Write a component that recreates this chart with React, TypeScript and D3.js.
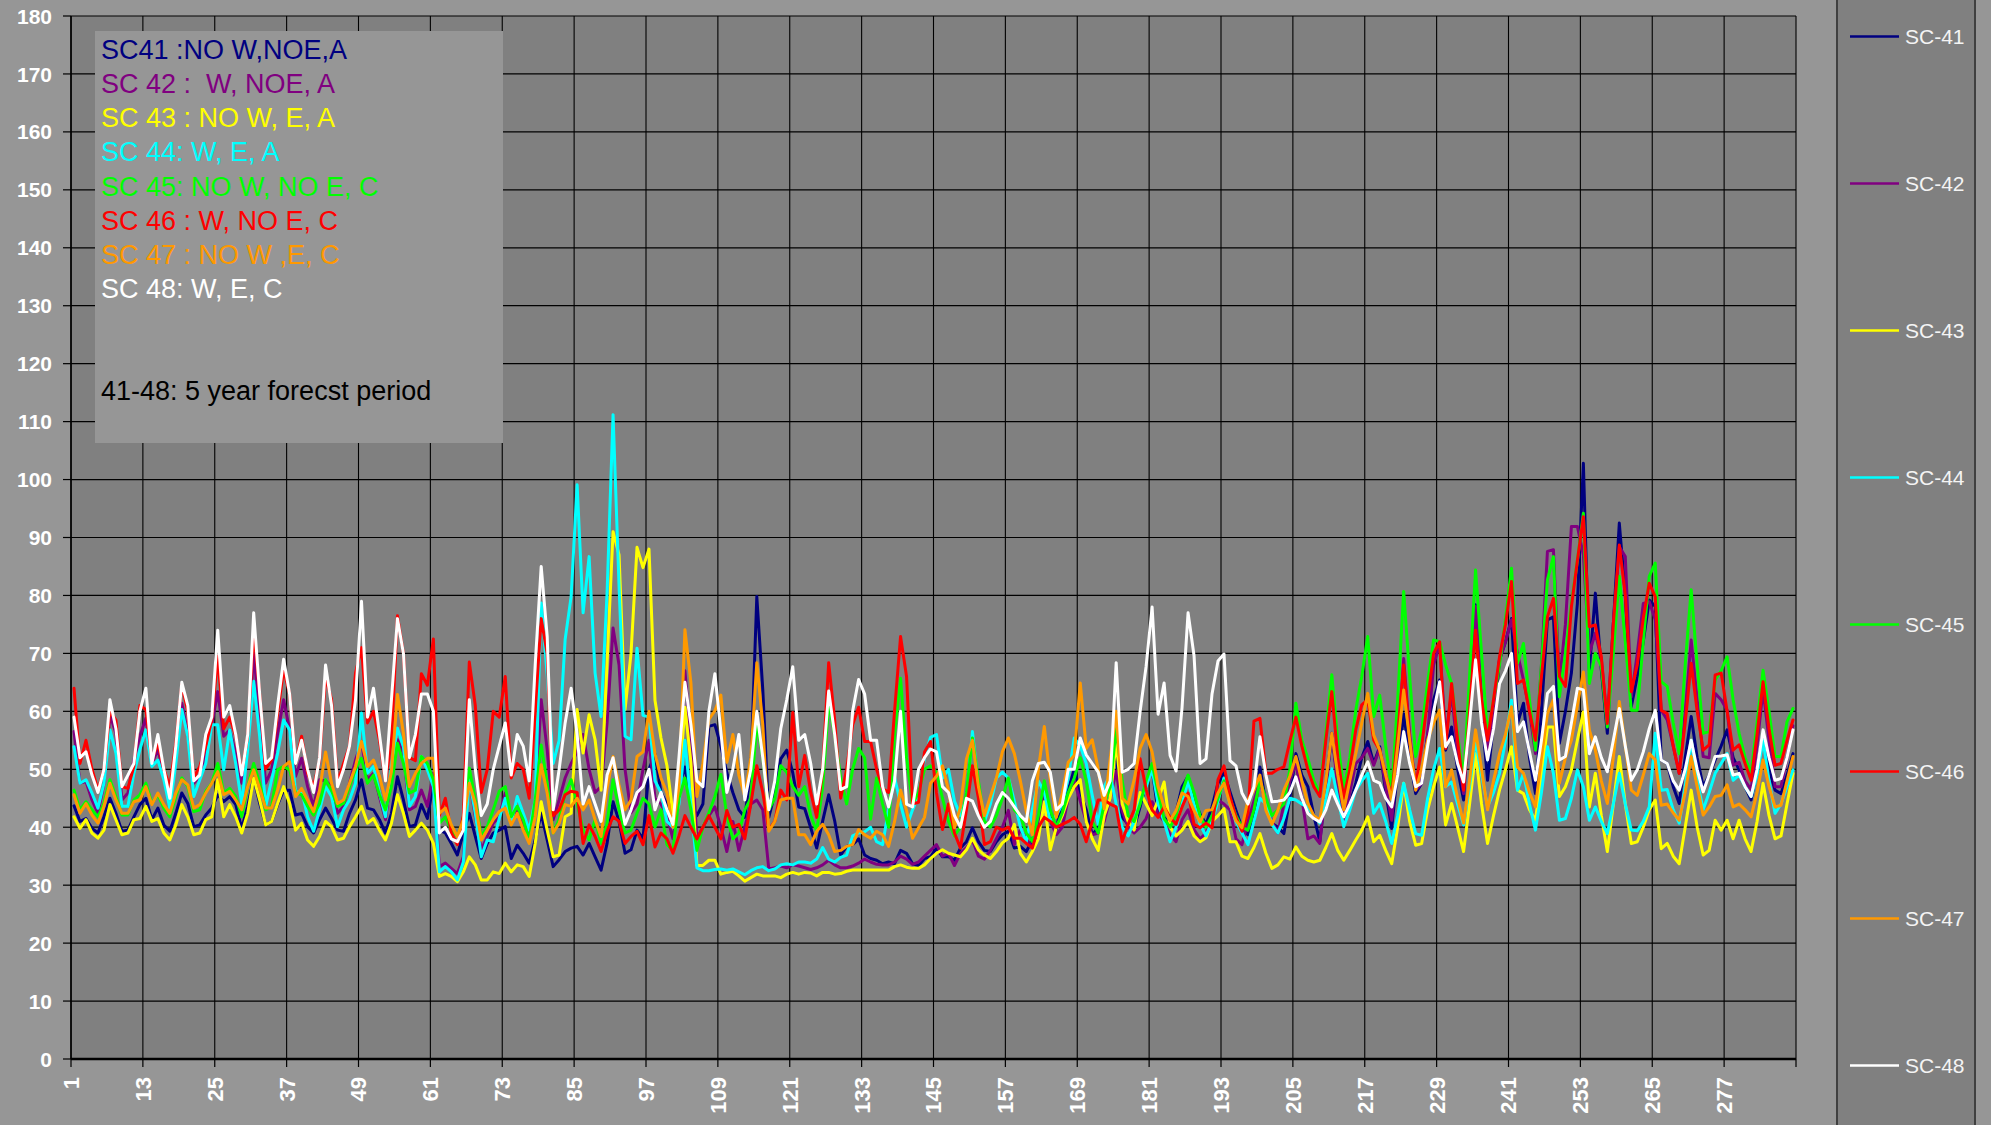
import React from "react";
import * as d3 from "d3";

const W = 1991;
const H = 1125;

const seriesNames = ["SC-41", "SC-42", "SC-43", "SC-44", "SC-45", "SC-46", "SC-47", "SC-48"];
const seriesColors = ["#000080", "#800080", "#FFFF00", "#00FFFF", "#00FF00", "#FF0000", "#FF9900", "#FFFFFF"];

const noteLines = [
  { text: "SC41 :NO W,NOE,A", color: "#000080" },
  { text: "SC 42 :  W, NOE, A", color: "#800080" },
  { text: "SC 43 : NO W, E, A", color: "#FFFF00" },
  { text: "SC 44: W, E, A", color: "#00FFFF" },
  { text: "SC 45: NO W, NO E, C", color: "#00FF00" },
  { text: "SC 46 : W, NO E, C", color: "#FF0000" },
  { text: "SC 47 : NO W ,E, C", color: "#FF9900" },
  { text: "SC 48: W, E, C", color: "#FFFFFF" },
];
const noteFooter = "41-48: 5 year forecst period";

const categories = d3.range(1, 289).map(String);
const xTickLabels = ["1", "13", "25", "37", "49", "61", "73", "85", "97", "109", "121", "133", "145", "157", "169", "181", "193", "205", "217", "229", "241", "253", "265", "277"];
const yTicks = [0, 10, 20, 30, 40, 50, 60, 70, 80, 90, 100, 110, 120, 130, 140, 150, 160, 170, 180];

const sc41 = [
  43.7, 41, 41.5, 39.8, 39, 41.8, 45, 42.4, 39.3, 39.5, 41.8, 43.9,
  45, 41.3, 43.3, 40.4, 39.3, 42.4, 45.9, 44.1, 40.1, 40.4, 42.1, 43.3,
  45.6, 44.4, 45.3, 43.9, 39.8, 43.6, 48.5, 44.1, 40.4, 41, 43.9, 46.4,
  46.4, 42.1, 42.4, 40.1, 39, 41.3, 43.3, 41.5, 39.5, 39.3, 42.4, 44.7,
  48.2, 43.3, 43, 41.3, 39, 42.4, 48.7, 44.7, 40.1, 40.4, 43.9, 41.5,
  47.6, 39.5, 39, 37.2, 35.2, 39, 42.4, 38.4, 34.6, 37.2, 39, 39.5,
  40.1, 34.6, 36.9, 35.5, 33.8, 37.8, 42.4, 37.8, 33.2, 34.4, 35.8, 36.4,
  36.7, 35.2, 37.2, 34.9, 32.6, 37.2, 44.4, 41, 35.5, 36.1, 39.5, 38,
  50, 52.7, 46, 44, 41, 47, 50.4, 44, 42, 44, 57.4, 57.7,
  54, 49.4, 46, 43, 41.7, 50, 79.8, 63.7, 41.7, 45.8, 51.8, 53.3,
  49.4, 43.5, 43.2, 39.9, 36.4, 41.1, 45.6, 41.1, 35.2, 36.7, 37, 38,
  35.2, 34.6, 34.3, 33.7, 34, 33.7, 36, 35.5, 33.7, 33.4, 34.6, 34.9,
  36.4, 34.9, 34.9, 34.3, 36.4, 37.5, 39.9, 37.5, 36, 35.8, 37.5, 38.7,
  39.3, 36.4, 36.7, 35.8, 37.8, 40.5, 46.2, 41.7, 39.6, 44.7, 46.4, 50,
  45.9, 43, 38.7, 39.9, 44.7, 50, 52.4, 41.7, 40.5, 39.9, 43.5, 47.7,
  50, 42.6, 41.7, 40.5, 42.6, 47, 48.8, 44.7, 42.3, 40.5, 43.5, 47.6,
  49.4, 46.1, 42.9, 39.9, 38.7, 41.1, 50.4, 44, 40.7, 40, 38.9, 45,
  52.7, 49, 47, 42, 37.5, 47, 56.2, 48, 40.4, 44, 47.6, 52,
  54.8, 51, 53.9, 46, 39.8, 50, 59.6, 52, 45.8, 47.6, 56, 62,
  65.4, 53.3, 57.3, 50, 44.7, 62, 78.4, 60, 48.1, 58, 68.9, 72,
  76, 57.9, 61.4, 52, 45.8, 60, 75.8, 76.3, 54.5, 60, 66.6, 78.6,
  102.8, 67.1, 80.4, 67.1, 56.2, 75, 92.5, 80, 60.8, 66, 72, 79.2,
  78.1, 51.6, 51, 47, 44.1, 52, 59.1, 52, 47, 49, 51.6, 54,
  56.8, 52, 49.9, 47, 44.7, 50, 56.2, 50, 46.4, 45.8, 49, 52.7,
];

const sc42 = [
  56.5, 47.6, 47.9, 44.7, 42.4, 47.6, 59.4, 56.2, 44.7, 45.9, 51.6, 55.7,
  58.8, 51, 53.4, 49.3, 45.3, 52.2, 61.4, 56.2, 47.6, 48.8, 52.8, 57.7,
  63.4, 55.7, 56.8, 52.8, 47.6, 54.5, 70, 59.1, 47.6, 49.9, 56.2, 62,
  56.8, 48.8, 51.9, 47, 43.6, 48.2, 48, 47, 42.4, 43.6, 47.6, 51.6,
  54.8, 48.2, 49.3, 45.3, 41.3, 49.3, 55.1, 52.8, 43, 43.6, 46.4, 43.6,
  49.3, 33.2, 33.8, 32.9, 32, 34.9, 48.2, 41.8, 36.1, 38.4, 40.7, 41.8,
  45.9, 41.3, 43, 40.7, 37.8, 44.1, 62, 53.4, 41.3, 44.7, 48.5, 51,
  53, 56, 50, 46, 47, 58, 74.4, 68, 50, 42.5, 44, 50,
  55, 45, 44, 42, 38, 45, 67, 55, 38, 40, 42, 43.5,
  40, 35.8, 41, 36, 40, 44, 44.7, 43, 32.8, 33, 33.3, 33,
  33.5, 33.3, 33, 32.7, 33, 33.5, 34.3, 33.5, 33, 33, 33.3, 33.8,
  34.5, 34, 33.6, 33.5, 33.5, 34, 35, 34.5, 33.6, 34, 35, 36,
  37, 35, 35.5, 33.4, 35.5, 36.5, 37.8, 35, 34.5, 36, 38, 40,
  42.9, 37, 39.6, 38, 36.5, 40.5, 45.6, 41, 38.7, 40, 45, 48,
  44.5, 41, 38.7, 39, 41, 45, 49.7, 42.9, 40, 39, 40, 41.5,
  44.4, 42.3, 41, 38.7, 37.5, 41.3, 43, 39.6, 38, 39, 42, 44.7,
  44, 43, 38, 37, 41, 44.5, 48, 44.3, 41, 39, 44, 48,
  51, 45, 38, 38.5, 37.2, 47, 56.2, 47, 40.7, 46, 51, 52,
  53.6, 50.7, 53.6, 47, 41.2, 53, 69.1, 56, 46.4, 47.6, 56, 68,
  71.7, 55.6, 63.1, 53, 45.8, 60, 78.1, 62, 52.7, 60, 68.9, 72,
  75.8, 70, 65.4, 60, 52.7, 68, 87.6, 87.9, 65, 75, 91.9, 91.9,
  87, 70, 73.5, 69, 58, 75, 88.4, 86.7, 62.5, 70, 78.6, 78.9,
  75.8, 60.2, 58.5, 54, 49.3, 60, 72.3, 62, 52.2, 52, 63.1, 62,
  60.2, 50.7, 51.2, 48, 46.5, 54, 63.7, 55, 47, 47, 52, 57.5,
];

const sc43 = [
  41.8, 39.8, 41.3, 39, 38.1, 39.5, 43.9, 41.3, 38.7, 39, 41.3, 41.5,
  43.6, 41, 41.5, 39, 37.8, 40.4, 43.9, 41.8, 38.7, 39, 41.3, 41.8,
  48.2, 41.8, 43.9, 41.8, 39, 42.4, 48.5, 44.7, 40.4, 41, 44.1, 47,
  44.1, 39.5, 40.7, 37.8, 36.7, 38.4, 41, 40.1, 37.8, 38.1, 40.1, 41.8,
  43.6, 40.7, 41.5, 39.5, 37.8, 40.7, 45.6, 42.4, 38.4, 39.5, 40.7, 39.5,
  37.2, 31.5, 32, 31.5, 30.6, 32.3, 34.9, 33.5, 30.9, 30.9, 32.3, 32,
  33.8, 32.3, 33.5, 33.2, 31.5, 37.2, 44.4, 39.5, 34.9, 35.2, 41.8, 42.4,
  60.3, 52.8, 59.4, 55.1, 46.4, 68.3, 91, 87, 60.3, 70, 88.3, 84.8,
  88, 61.9, 55.4, 50.6, 42.3, 47, 60.7, 51.2, 33.4, 33.4, 34.3, 34.3,
  31.9, 32.2, 32.4, 31.6, 30.7, 31.3, 31.9, 31.6, 31.6, 31.6, 31.3, 31.9,
  32.2, 31.9, 32.2, 32.1, 31.6, 32.2, 32.2, 31.9, 32, 32.4, 32.6, 32.6,
  32.6, 32.6, 32.6, 32.6, 32.6, 33.2, 33.5, 33.1, 32.9, 32.9, 33.5, 34.6,
  35.5, 36.1, 35.5, 35.2, 34.9, 36.1, 38.1, 36.1, 35.2, 34.6, 35.8, 37.3,
  38.1, 40.5, 35.5, 34, 35.8, 38, 44.4, 36.1, 40, 42, 45, 47,
  48.2, 41, 38, 36, 42, 45, 54.8, 44, 41, 39.5, 46, 44,
  42, 44.7, 47.8, 40, 38.5, 39.5, 41, 38.5, 37.5, 38.2, 41, 42,
  43.2, 37.5, 37.5, 35, 34.6, 36.5, 38.9, 35.5, 32.9, 33.5, 34.9, 34.5,
  36.6, 35, 34.3, 34, 34.3, 36.5, 38.9, 36, 34.3, 36, 37.8, 39.5,
  41.8, 37.5, 38.6, 36, 33.7, 40, 47.6, 41, 36.9, 37.2, 43, 47,
  50.4, 40.4, 44.1, 40, 35.8, 44, 52.7, 44, 37.2, 42, 46.4, 50,
  53.9, 46.4, 45.8, 43, 41.2, 49, 57.3, 57.3, 45.3, 47, 49.9, 55,
  59.9, 43.5, 49.3, 42, 35.8, 44, 52.2, 44, 37.2, 37.5, 40, 43,
  44.7, 36.3, 37.2, 35, 33.7, 40, 46.4, 40, 35.2, 36, 41.2, 39.5,
  41.2, 38, 41.2, 38, 35.8, 41, 47.6, 42, 38, 38.5, 44, 49.3,
];

const sc44 = [
  53.9, 47.6, 48.2, 45.9, 43.3, 47.6, 56.8, 52.8, 43.6, 43.6, 49.3, 53.4,
  56.8, 50.5, 51.6, 48.2, 43.3, 51, 60.3, 55.7, 45.3, 48.2, 51, 57.7,
  57.7, 49.9, 56.8, 51, 44.1, 53.4, 65.2, 55.7, 43.6, 48.2, 52.8, 58.5,
  56.8, 45.9, 46.4, 41.8, 39.3, 43, 47, 45.3, 40.1, 43, 44.7, 47.6,
  59.7, 49.3, 50.5, 45.9, 41.8, 50.5, 57.1, 53.9, 43.6, 45.3, 52.2, 49.9,
  47, 32.3, 33.2, 32.3, 30.9, 34, 48.2, 42.4, 34.9, 37.8, 37.5, 41.5,
  45, 40.7, 45.3, 42.4, 39.5, 44.7, 78.7, 66.3, 51, 55, 72.4, 79.8,
  99.1, 77, 86.7, 66.6, 59.1, 80.4, 111.2, 81.6, 55.7, 55.1, 70.9, 59.3,
  59, 48, 46, 41, 40, 44, 55, 44, 33, 32.5, 32.5, 32.7,
  32.8, 32.6, 32.8, 32.3, 31.8, 32.5, 33, 33.2, 32.5, 32.8, 33.5, 33.7,
  33.5, 34, 34, 33.8, 34.5, 36.5, 34.5, 34, 34.8, 35.2, 38.5, 39,
  39.2, 40, 37.5, 37, 43, 48.6, 44, 40, 43, 45.5, 52, 55.5,
  56, 48.5, 50, 44.5, 42, 45, 56.5, 47, 41, 44, 48.5, 49.5,
  48.5, 44.5, 40, 37.5, 43, 48, 46, 41, 42, 44, 48.5, 55.4,
  54, 51, 45.5, 40.5, 47, 49, 44, 40, 38.5, 41, 44.5, 47,
  50, 44, 41, 37.5, 40, 44, 48, 44, 40.5, 38.5, 41, 44.5,
  48.5, 44, 41, 39, 37, 41, 45, 44, 40.5, 39, 41.5, 45,
  44.7, 44, 43.5, 42, 40.7, 45, 50.1, 45, 40.1, 43, 46.4, 48,
  49.3, 42.4, 44.1, 41, 37.2, 42, 47.6, 43, 38.9, 38.6, 45, 50,
  53.6, 47, 47.8, 44, 40.4, 47, 55, 49, 43.5, 46, 49.3, 55,
  61.9, 46.4, 49.3, 44, 39.5, 46, 53.9, 49.3, 41.2, 41.5, 45, 49.9,
  47, 41.2, 43.5, 41, 38.9, 44, 49.3, 44, 39.5, 39.4, 41, 43.5,
  56.2, 46.4, 46.5, 43, 40.7, 47, 55, 48, 43, 46, 49.3, 51,
  52.7, 48.1, 49, 47, 45.3, 49, 55, 48, 42.4, 44, 47, 49.9,
];

const sc45 = [
  46.4, 43, 44.4, 43, 41.8, 44.1, 48.2, 45.3, 42.1, 42.1, 44.7, 45.6,
  47.6, 44.1, 45.6, 43.3, 41.8, 45.3, 48.5, 47, 42.7, 43, 46.2, 47.6,
  51, 45.9, 46.7, 45.3, 41.8, 47, 51, 47.6, 43, 43.6, 49.9, 50.5,
  49.9, 45.9, 45.6, 43.6, 42.1, 44.1, 48.2, 46.4, 43.6, 44.1, 47, 50,
  51.9, 47.6, 49, 45.6, 43, 47, 54.5, 51, 45.9, 46.4, 52.2, 51,
  48.2, 40.7, 41.8, 39.5, 38.4, 41.3, 50.2, 44.7, 38.4, 40.1, 43, 46.2,
  47, 41.8, 43.6, 41.3, 37.8, 44.7, 54.2, 47.6, 39, 41.3, 45.9, 48.2,
  44.1, 39.5, 37.8, 41.3, 37.2, 40.7, 48.2, 43, 39, 39.5, 42.4, 45,
  44, 40, 43, 37, 36, 45, 48.5, 43, 36, 40, 42.5, 45.3,
  49.1, 42, 38, 39, 43, 45, 58, 52, 43, 45, 50.6, 49.5,
  47, 45.5, 47, 42, 39.3, 47, 61.6, 56, 48.5, 44, 50, 53.6,
  52, 41.4, 48.5, 44, 40, 56, 65.7, 52, 44, 46, 50, 50.6,
  49.5, 45, 41, 38.5, 40, 46, 55.4, 48, 41, 40, 42, 45,
  48.5, 43, 42, 39, 37.5, 42, 48, 43, 40, 42.5, 46, 48.5,
  52, 48, 41, 39, 44, 47, 57, 48, 42, 41, 44, 48,
  51, 46, 41.5, 40, 42, 46, 49, 46, 42, 40, 42, 45,
  48, 45, 42, 40, 39.5, 43, 48, 45, 42, 43, 44, 50,
  61.4, 55, 51.9, 48, 45.8, 56, 66.3, 55, 46.4, 52, 60.2, 66,
  72.9, 59.1, 62.8, 54, 46.4, 62, 80.7, 66, 52.2, 56.8, 65, 72.3,
  72, 68, 64.8, 56, 48.1, 66, 84.4, 70, 55.9, 62, 68, 76,
  84.7, 68.3, 71.7, 62, 53.3, 68, 82.7, 86.7, 62.5, 70, 78.6, 86,
  94.2, 64.8, 70, 67.7, 57.3, 70, 83.3, 72, 60.2, 60.2, 72, 83.3,
  85.6, 65.1, 64.3, 58, 52.7, 68, 81, 68, 56.2, 56.5, 65.4, 67,
  69.4, 62, 56.2, 52, 49.3, 58, 67.1, 60, 52.2, 52.2, 58.2, 60.5,
];

const sc46 = [
  64, 51, 55, 50, 46.4, 50, 60, 58.5, 47, 46.7, 50.5, 61,
  60.3, 51.6, 54.5, 50, 47, 54.5, 64.6, 60, 48.5, 50.5, 54, 58.5,
  69.5, 57, 59, 55.7, 49.3, 55.7, 74, 63, 50, 51.6, 59.7, 67.2,
  63, 51, 55.7, 49.3, 47, 51.6, 66, 62, 47.6, 51, 54, 66.6,
  71, 58, 60, 55, 48, 55, 76.5, 70, 52, 51.5, 66.5, 64.5,
  72.5, 42, 45, 39, 37, 42, 68.5, 61, 46, 50, 60, 59,
  66, 48.5, 51, 50, 45, 60, 76, 70, 42, 43, 45.6, 46.2,
  46, 37.2, 40.4, 38.4, 35.8, 39.3, 41.8, 41, 37.2, 38.4, 39.3, 37,
  42, 36.6, 39, 38, 35.5, 38.5, 42, 40, 38, 40, 42, 40,
  38, 42.9, 40, 40.5, 38, 44, 50.6, 46, 39.5, 41, 46.4, 44.7,
  59.8, 47, 52.4, 46, 41.7, 50, 68.4, 58.5, 45, 50, 57.7, 60.7,
  54.8, 54.8, 50, 46.7, 46, 60.1, 72.9, 66, 44, 44.3, 53, 54.8,
  45.9, 39.6, 44, 39, 36.4, 43, 50.6, 45, 37, 37.5, 40, 39.5,
  40, 38.1, 38.1, 37.2, 36.4, 40, 41.7, 41, 40, 40.5, 41, 41.7,
  40.5, 37.5, 41, 44.7, 44.7, 44, 43.5, 37.5, 40.5, 43, 51.8, 46.5,
  43, 41.7, 43.5, 41.7, 40.5, 43.5, 45.9, 40.5, 39.9, 40.7, 39.9, 48.2,
  50.6, 45.3, 41.7, 39.3, 42.5, 58.3, 58.8, 49.3, 49.3, 50, 50.4, 54.8,
  59, 54, 49.9, 47, 45.3, 55, 63.4, 52, 45, 50, 56.8, 61.1,
  62, 55, 53.3, 49, 45.3, 56, 68, 55, 47, 53.9, 62, 70,
  72, 53.6, 64.8, 55, 46.4, 60, 74, 62, 55, 62, 69.4, 75,
  82.4, 64.8, 65.4, 60, 55, 66, 76.3, 79.5, 66, 64.3, 78, 86,
  93.6, 74.6, 74.9, 69.4, 57.9, 75, 88.7, 80, 63.4, 68, 76, 82.1,
  79.8, 60.2, 59.6, 54, 49.3, 58, 68.3, 60, 53.3, 54.2, 66.3, 66.6,
  60, 53.3, 54.2, 51, 48.1, 56, 65.1, 57, 50.7, 51, 55, 58.5,
];

const sc47 = [
  45.6, 42.4, 44.1, 42.1, 40.7, 43.6, 47.6, 44.7, 42.4, 42.4, 44.4, 44.7,
  47, 43.9, 45.9, 43.9, 42.4, 45.9, 48.2, 47.3, 43.3, 43.9, 45.9, 47.6,
  49.6, 45.6, 46.2, 44.7, 43, 47, 49.9, 46.7, 43.3, 43.3, 46.4, 50.5,
  51.3, 45.3, 46.7, 44.7, 42.7, 46.4, 53, 47.6, 44.1, 44.7, 47.6, 50.5,
  54.8, 50.5, 51.6, 48.8, 44.7, 49.6, 62.9, 56.2, 47, 49.3, 51, 51.9,
  51.9, 42.4, 43.3, 40.4, 38.4, 41.3, 47.6, 44.1, 37.8, 39.5, 41.3, 42.7,
  43.3, 40.4, 42.4, 39.5, 37.2, 41.8, 50.8, 45.9, 39, 40.7, 43.9, 43.6,
  45, 43, 44.7, 41.3, 38.4, 46.7, 52.2, 47.3, 43, 44.7, 52.2, 53,
  60, 52.7, 48.5, 45.9, 40, 47, 74.1, 64.9, 45.3, 51, 58.6, 60.1,
  62.8, 51.2, 56, 49, 45.3, 52, 68.4, 57.7, 39.3, 41, 44.7, 45,
  45, 38.7, 38.7, 37, 39.3, 40.5, 38.7, 35.8, 36, 36.7, 37, 39.6,
  38.7, 38.1, 39.3, 38.7, 36.7, 41, 46.4, 42.9, 38.1, 39.9, 41.7, 47.6,
  48.8, 50.6, 46.4, 39.9, 43.5, 51.8, 55, 47, 42, 45.3, 48.5, 53,
  55.4, 52.7, 48, 42.7, 38.7, 49.9, 57.4, 48.2, 41.7, 45.9, 51.2, 52.4,
  64.9, 53.6, 55.1, 50, 43.2, 51.8, 60, 45, 44, 48.2, 53.6, 56,
  53, 47, 43.5, 41.1, 42.9, 45.9, 45.3, 42.9, 40.9, 42.9, 43, 45.9,
  47.6, 44, 41.1, 39.9, 44.7, 46.4, 49, 42.9, 40.5, 42.9, 46.4, 48.8,
  52.2, 48, 44.1, 42, 41.2, 48, 56.2, 49, 43, 48, 52.7, 58,
  63.1, 55.9, 53.3, 49, 44.7, 54, 63.7, 55, 46.4, 50.1, 55, 58,
  60.2, 47, 49.9, 45, 40.7, 48, 56.8, 50, 43, 48, 52.7, 56,
  60.8, 50.4, 49.3, 46, 43.5, 52, 59.6, 62, 47.6, 52, 55, 61,
  66.8, 56.8, 53.3, 48, 44.1, 52, 61.7, 54, 46.4, 45.5, 49, 52.7,
  51.6, 43.8, 44, 42.5, 41.2, 46, 52.2, 47, 42.1, 43.5, 45.3, 45.5,
  47.3, 43.5, 44, 43, 41.8, 46, 51.6, 47, 43.5, 43.8, 48, 52.2,
];

const sc48 = [
  59, 52, 53, 49, 46, 50, 62, 57, 47, 49, 51, 60,
  64, 51, 56, 50, 45, 54, 65, 61, 48, 49, 56, 59,
  74, 59, 61, 56, 49, 56, 77, 63, 51, 52, 61, 69,
  63, 51, 55, 50, 46, 52, 68, 61, 47, 50, 54, 62,
  79, 59, 64, 56, 48, 62, 76, 70, 52, 56, 63, 63,
  60, 39, 40, 38, 37.5, 39.5, 62, 50, 42, 44, 50, 54,
  58, 49, 56, 54, 48, 68, 85, 73, 43, 50, 58, 64,
  56, 44, 47, 44, 41, 49, 52, 46, 40.5, 43, 46, 47,
  50, 43, 46, 43, 40.5, 52, 65, 57.7, 48, 47, 60, 66.5,
  56.5, 46, 50, 56, 44.7, 50, 60, 52, 43, 48, 57, 62,
  67.7, 55, 56, 51, 44, 50, 63.5, 56, 46.5, 47, 60, 65.5,
  63, 55, 55, 47, 43.5, 48, 60, 44, 43.5, 50, 52, 53.5,
  53, 47, 46, 42, 40, 45, 44.5, 42, 40, 41, 44, 46,
  45, 43.5, 42, 41, 48, 51, 51.2, 49.5, 43, 44, 50, 50,
  55.4, 52.5, 51, 49.5, 45.5, 48, 68.4, 49.5, 50, 51, 60, 67.8,
  78, 59.5, 64.9, 52.4, 49.7, 60.7, 77, 69.6, 51, 51.8, 63, 68.7,
  69.9, 51.5, 50.6, 45.9, 44, 47, 55.6, 49, 44.4, 44.5, 44.7, 46,
  48.7, 45, 42.4, 41.5, 40.9, 43, 46.4, 44, 41.8, 44, 46.4, 49,
  51.3, 48.1, 47.6, 45, 43.5, 49, 56.5, 51, 47, 47.6, 54, 60,
  65.1, 53.9, 55.6, 51, 47.8, 58, 68.9, 58, 51.6, 57, 64.8, 67,
  70, 56.5, 58.2, 53, 48.1, 55, 63.1, 64.3, 51.6, 52.2, 58, 64,
  63.7, 52.7, 55.6, 52, 49.6, 55, 60.5, 54, 48.1, 49.9, 53, 57,
  60.2, 51.6, 51, 48, 46.4, 50, 55, 50, 46.1, 49, 52.2, 52.3,
  52.5, 49, 49.3, 47, 45.3, 50, 56.8, 52, 48.1, 48.4, 52, 56.8,
];

const seriesValues = [sc41, sc42, sc43, sc44, sc45, sc46, sc47, sc48];

const FONT = "'Liberation Sans', Arial, Helvetica, sans-serif";

export default function App() {
  const plotLeft = 71;
  const plotRight = 1796;
  const plotTop = 16;
  const plotBottom = 1059;

  const x = d3.scaleBand<string>().domain(categories).range([plotLeft, plotRight]).padding(0);
  const bw = x.bandwidth();
  const y = d3.scaleLinear().domain([0, 180]).range([plotBottom, plotTop]);

  const line = d3
    .line<number>()
    .x((_, i) => (x(categories[i]) as number) + bw / 2)
    .y((d) => y(d));

  const tickXs = xTickLabels.map((c) => x(c) as number);
  const boundaryXs = [...tickXs, plotRight];

  const legendTop = 36.5;
  const legendStep = 147;

  return (
    <svg
      width={W}
      height={H}
      style={{ position: "fixed", left: 0, top: 0, display: "block" }}
      fontFamily={FONT}
    >
      <rect x={0} y={0} width={W} height={H} fill="#969696" />
      <rect x={plotLeft} y={plotTop} width={plotRight - plotLeft} height={plotBottom - plotTop} fill="#808080" />

      {/* horizontal gridlines */}
      {yTicks.map((t) => (
        <line key={"hg" + t} x1={plotLeft} x2={plotRight} y1={y(t)} y2={y(t)} stroke="#000" strokeWidth={1.2} />
      ))}
      {/* vertical gridlines */}
      {boundaryXs.map((bx, i) => (
        <line key={"vg" + i} x1={bx} x2={bx} y1={plotTop} y2={plotBottom} stroke="#000" strokeWidth={1.1} />
      ))}

      {/* y ticks and labels */}
      {yTicks.map((t) => (
        <g key={"yt" + t}>
          <line x1={63} x2={plotLeft} y1={y(t)} y2={y(t)} stroke="#000" strokeWidth={1.2} />
          <text x={52} y={y(t)} dy="0.36em" textAnchor="end" fontSize={21} fontWeight="bold" fill="#ffffff">
            {t}
          </text>
        </g>
      ))}

      {/* x ticks and labels */}
      {boundaryXs.map((bx, i) => (
        <line key={"xt" + i} x1={bx} x2={bx} y1={plotBottom} y2={plotBottom + 8} stroke="#000" strokeWidth={1.2} />
      ))}
      {xTickLabels.map((c, i) => (
        <text
          key={"xl" + c}
          transform={`translate(${tickXs[i]},${1077}) rotate(-90)`}
          dy="0.36em"
          textAnchor="end"
          fontSize={22}
          fontWeight="bold"
          fill="#ffffff"
        >
          {c}
        </text>
      ))}

      {/* axes */}
      <line x1={plotLeft} x2={plotLeft} y1={plotTop} y2={plotBottom} stroke="#000" strokeWidth={1.5} />
      <line x1={plotLeft} x2={plotRight} y1={plotBottom} y2={plotBottom} stroke="#000" strokeWidth={2.5} />

      {/* data lines */}
      <g clipPath="url(#plotClip)">
        {seriesValues.map((vals, si) => (
          <path
            key={"s" + si}
            d={line(vals) || ""}
            fill="none"
            stroke={seriesColors[si]}
            strokeWidth={3}
            strokeLinejoin="round"
            strokeLinecap="round"
          />
        ))}
      </g>
      <defs>
        <clipPath id="plotClip">
          <rect x={plotLeft} y={plotTop} width={plotRight - plotLeft} height={plotBottom - plotTop} />
        </clipPath>
      </defs>

      {/* annotation box */}
      <rect x={95} y={31} width={408} height={412} fill="#969696" />
      {noteLines.map((n, i) => (
        <text key={"n" + i} x={101} y={59.3 + i * 34.06} fontSize={27} fill={n.color} style={{ whiteSpace: "pre" }}>
          {n.text}
        </text>
      ))}
      <text x={101} y={400} fontSize={27} fill="#000000">
        {noteFooter}
      </text>

      {/* legend panel */}
      <rect x={1837} y={-5} width={138} height={H + 10} fill="#808080" stroke="#404040" strokeWidth={2} />
      {seriesNames.map((name, i) => {
        const ly = legendTop + i * legendStep;
        return (
          <g key={"lg" + i}>
            <line x1={1850} x2={1899} y1={ly} y2={ly} stroke={seriesColors[i]} strokeWidth={2.5} />
            <text x={1905} y={ly} dy="0.36em" fontSize={21} fill="#f4f4f4">
              {name}
            </text>
          </g>
        );
      })}
    </svg>
  );
}
